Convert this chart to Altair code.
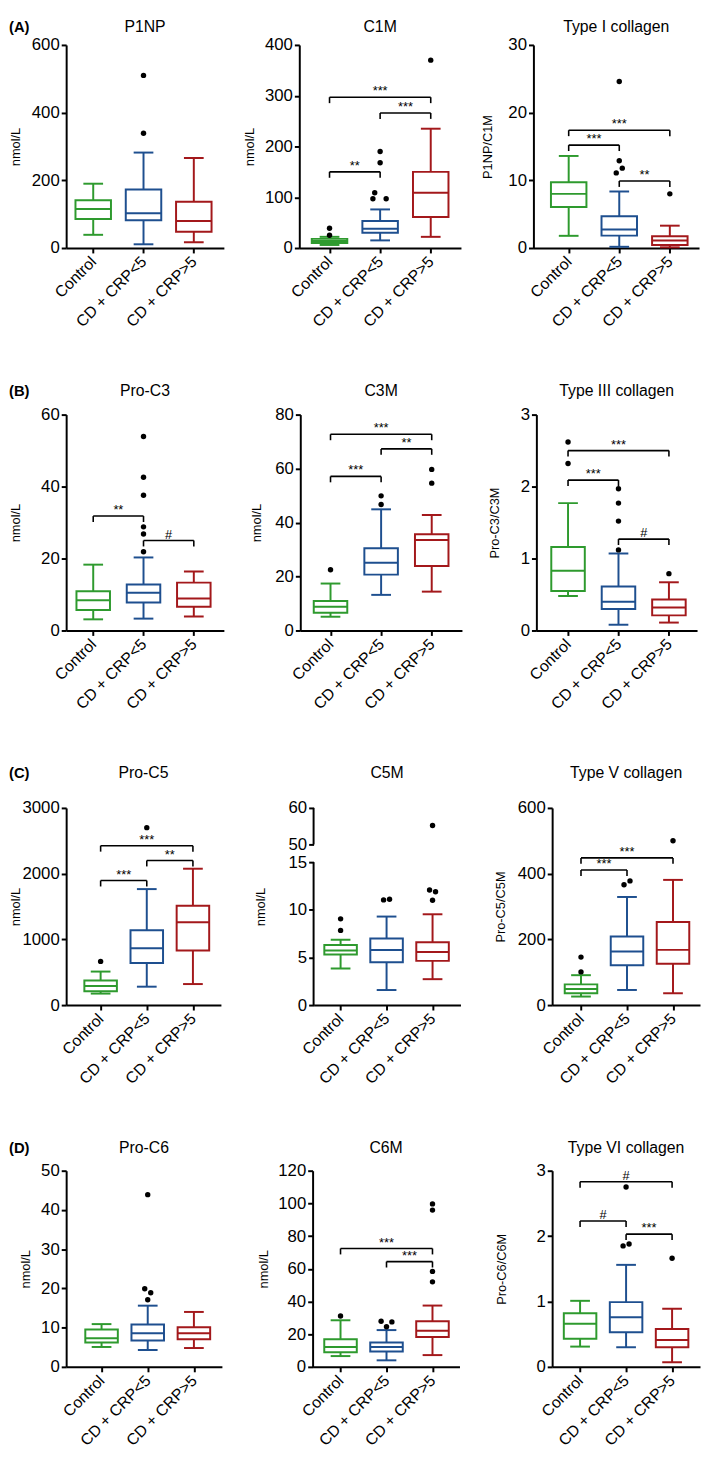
import json
import altair as alt
import pandas as pd

GROUPS = ["Control", "CD + CRP<5", "CD + CRP>5"]
COLORS = ["#2e9a2e", "#1e4f8f", "#a3181b"]

# box stats per group: [lower whisker, Q1, median, Q3, upper whisker]
P1NP_STATS = [[39, 86, 115, 141, 190], [11, 82, 103, 173, 282], [17, 48, 80, 137, 266]]
P1NP_OUT = [[1, 339, 0], [1, 510, 0]]          # group, value, side
P1NP_SIG = []                                   # group a, group b, height, label
P1NP_TICKS = [0, 200, 400, 600]

C1M_STATS = [[6, 10, 14, 18, 22], [15, 30, 38, 53, 76], [22, 61, 109, 150, 235]]
C1M_OUT = [[0, 25, 0], [0, 39, 0], [1, 97, -1.2], [1, 97, 1], [1, 109, -0.9],
           [1, 168, 0], [1, 190, 0], [2, 370, 0]]
C1M_SIG = [[0, 2, 297, "***"], [1, 2, 266, "***"], [0, 1, 150, "**"]]
C1M_TICKS = [0, 100, 200, 300, 400]

TYPE1_STATS = [[1.8, 6.05, 8.0, 9.7, 13.6], [0.18, 1.83, 2.75, 4.68, 8.35], [0.1, 0.46, 1.1, 1.74, 3.3]]
TYPE1_OUT = [[1, 12.9, 0], [1, 11.8, 0.5], [1, 11.1, -0.5], [1, 24.6, 0], [2, 8.0, 0]]
TYPE1_SIG = [[0, 2, 17.4, "***"], [0, 1, 15.2, "***"], [1, 2, 9.9, "**"]]
TYPE1_TICKS = [0, 10, 20, 30]

PROC3_STATS = [[3.1, 5.7, 8.4, 10.9, 18.3], [3.3, 7.8, 10.5, 12.8, 20.3], [3.9, 6.6, 8.9, 13.3, 16.4]]
PROC3_OUT = [[1, 21.9, 0], [1, 26.8, 0], [1, 28.8, 0], [1, 37.6, 0], [1, 42.6, 0], [1, 53.9, 0]]
PROC3_SIG = [[0, 1, 31.8, "**"], [1, 2, 25.0, "#"]]
PROC3_TICKS = [0, 20, 40, 60]

C3M_STATS = [[5.1, 6.6, 8.8, 10.9, 17.4], [13.2, 20.7, 25.1, 30.5, 44.9], [14.4, 23.9, 33.5, 35.7, 42.8]]
C3M_OUT = [[0, 22.5, 0], [1, 46.7, 0], [1, 49.9, 0], [2, 54.6, 0], [2, 59.7, 0]]
C3M_SIG = [[0, 2, 72.7, "***"], [1, 2, 67.3, "**"], [0, 1, 57.1, "***"]]
C3M_TICKS = [0, 20, 40, 60, 80]

TYPE3_STATS = [[0.48, 0.55, 0.83, 1.16, 1.77], [0.08, 0.30, 0.40, 0.61, 1.07], [0.11, 0.21, 0.32, 0.43, 0.67]]
TYPE3_OUT = [[0, 2.32, 0], [0, 2.62, 0], [1, 1.12, 0], [1, 1.52, 0], [1, 1.77, 0], [1, 1.97, 0], [2, 0.79, 0]]
TYPE3_SIG = [[0, 2, 2.50, "***"], [0, 1, 2.09, "***"], [1, 2, 1.27, "#"]]
TYPE3_TICKS = [0, 1, 2, 3]

PROC5_STATS = [[175, 210, 290, 375, 510], [280, 640, 865, 1140, 1765], [320, 830, 1260, 1510, 2075]]
PROC5_OUT = [[0, 665, 0], [1, 2700, 0]]
PROC5_SIG = [[0, 2, 2425, "***"], [1, 2, 2200, "**"], [0, 1, 1895, "***"]]
PROC5_TICKS = [0, 1000, 2000, 3000]

C5M_STATS = [[3.85, 5.3, 5.74, 6.3, 6.85], [1.58, 4.5, 5.78, 6.98, 9.29], [2.72, 4.64, 5.57, 6.6, 9.53]]
C5M_OUT = [[0, 7.84, 0], [0, 9.05, 0], [1, 11.04, -0.5], [1, 11.1, 0.5], [2, 12.07, -0.5],
           [2, 11.9, 0.5], [2, 11.0, 0], [2, 55.2, 0]]
C5M_SIG = []
C5M_TICKS = [0, 5, 10, 15, 50, 60]
C5M_BREAK = [15, 50]

TYPE5_STATS = [[26, 36, 49, 63, 91], [46, 121, 163, 209, 329], [36, 126, 168, 253, 381]]
TYPE5_OUT = [[0, 101, 0], [0, 146, 0], [1, 366, -0.5], [1, 378, 0.5], [2, 500, 0]]
TYPE5_SIG = [[0, 2, 448, "***"], [0, 1, 411, "***"]]
TYPE5_TICKS = [0, 200, 400, 600]

PROC6_STATS = [[5.07, 6.2, 7.3, 9.55, 10.9], [4.3, 6.7, 8.55, 10.8, 15.6], [4.8, 7.06, 8.55, 10.1, 14.0]]
PROC6_OUT = [[1, 17.1, 0], [1, 18.9, 0.5], [1, 19.9, -0.5], [1, 43.9, 0]]
PROC6_SIG = []
PROC6_TICKS = [0, 10, 20, 30, 40, 50]

C6M_STATS = [[6.6, 9.0, 12.2, 16.9, 28.5], [4.0, 9.4, 12.2, 14.9, 22.5], [7.2, 18.3, 22.1, 27.9, 37.5]]
C6M_OUT = [[0, 31.1, 0], [1, 24.5, 0], [1, 27.9, -0.9], [1, 27.5, 0.9], [2, 52.0, 0],
           [2, 58.4, 0], [2, 95.9, 0], [2, 99.7, 0]]
C6M_SIG = [[0, 2, 72.4, "***"], [1, 2, 64.4, "***"]]
C6M_TICKS = [0, 20, 40, 60, 80, 100, 120]

TYPE6_STATS = [[0.31, 0.43, 0.66, 0.82, 1.01], [0.30, 0.53, 0.76, 0.99, 1.56], [0.07, 0.30, 0.41, 0.58, 0.89]]
TYPE6_OUT = [[1, 1.85, -0.5], [1, 1.88, 0.5], [1, 2.75, 0], [2, 1.66, 0]]
TYPE6_SIG = [[0, 2, 2.83, "#"], [0, 1, 2.23, "#"], [1, 2, 2.03, "***"]]
TYPE6_TICKS = [0, 1, 2, 3]

FONT = "Liberation Sans"
SPREAD = 6.5   # px sideways shift for tied outliers
LEG = 6        # px bracket leg length
CAP = 20
LETTER_X = -58


def panel(stats, outs, sigs, ticks, title, ytitle, w, h, xdom, title_x, t_off, bw,
          letter=None, broken=None):
    band = w / (xdom[1] - xdom[0])
    ymax = ticks[-1]
    box = pd.DataFrame({
        "g": [0, 1, 2], "grp": GROUPS,
        "lo": [s[0] for s in stats], "q1": [s[1] for s in stats],
        "med": [s[2] for s in stats], "q3": [s[3] for s in stats],
        "hi": [s[4] for s in stats],
    })
    out = pd.DataFrame(outs, columns=["g", "val", "side"])
    out["xo"] = out["g"] + out["side"] * SPREAD / band

    xsc = alt.Scale(domain=list(xdom), nice=False, zero=False)
    if broken:
        ysc = alt.Scale(domain=[0, broken[0], broken[1], ymax],
                        range=[h, round(h * 55 / 200), round(h * 37 / 200), 0],
                        nice=False, zero=False)
    else:
        ysc = alt.Scale(domain=[0, ymax], nice=False, zero=False)

    xax = alt.Axis(values=[0, 1, 2], labelExpr=f"{json.dumps(GROUPS)}[datum.value]",
                   labelAngle=315, labelAlign="right", labelBaseline="middle",
                   labelFontSize=16, labelPadding=6, labelOverlap=False, labelFlush=False,
                   title=None, grid=False, domainWidth=2, tickWidth=2, tickSize=5)
    yax = alt.Axis(values=ticks, format="d", labelFontSize=17, labelPadding=2, labelOverlap=False,
                   labelFlush=False, title=ytitle, titleFontSize=13, titleFontWeight="normal",
                   titleX=title_x, titleBaseline="middle", titleAlign="center", titleAngle=270,
                   grid=False, domain=not broken, domainWidth=2, tickWidth=2, tickSize=5)

    def X(f):
        return alt.X(f, type="quantitative", scale=xsc, axis=xax)

    def Y(f):
        return alt.Y(f, type="quantitative", scale=ysc, axis=yax)

    cscale = alt.Scale(domain=GROUPS, range=COLORS)
    col = alt.Color("grp:N", scale=cscale, legend=None)
    base = alt.Chart(box)
    layers = [
        base.mark_rule(strokeWidth=2, opacity=1).encode(x=X("g"), y=Y("lo"), y2="hi", color=col),
        base.mark_bar(size=bw, fill="white", strokeWidth=2, opacity=1).encode(
            x=X("g"), y=Y("q1"), y2="q3", stroke=alt.Stroke("grp:N", scale=cscale, legend=None)),
        base.mark_tick(orient="horizontal", size=bw, thickness=2, opacity=1).encode(
            x=X("g"), y=Y("med"), color=col),
        base.mark_tick(orient="horizontal", size=CAP, thickness=2, opacity=1).encode(
            x=X("g"), y=Y("lo"), color=col),
        base.mark_tick(orient="horizontal", size=CAP, thickness=2, opacity=1).encode(
            x=X("g"), y=Y("hi"), color=col),
        alt.Chart(out).mark_circle(size=30, color="black", opacity=1).encode(x=X("xo"), y=Y("val")),
    ]
    if sigs:
        sg = pd.DataFrame(sigs, columns=["g1", "g2", "y", "lab"])
        sg["gm"] = (sg["g1"] + sg["g2"]) / 2
        sg["yl"] = sg["y"] - LEG / h * ymax
        sc = alt.Chart(sg)
        layers += [
            sc.mark_rule(strokeWidth=1.6, color="black").encode(x=X("g1"), x2="g2", y=Y("y")),
            sc.mark_rule(strokeWidth=1.6, color="black").encode(x=X("g1"), y=Y("y"), y2="yl"),
            sc.mark_rule(strokeWidth=1.6, color="black").encode(x=X("g2"), y=Y("y"), y2="yl"),
            sc.mark_text(fontSize=13, baseline="alphabetic", dy=-2, color="black").encode(
                x=X("gm"), y=Y("y"), text="lab:N"),
        ]
    if broken:
        seg = pd.DataFrame({"a": [0, broken[1]], "b": [broken[0], ymax]})
        layers.append(alt.Chart(seg).mark_rule(strokeWidth=2, color="black").encode(
            x=alt.value(0), y=Y("a"), y2="b"))
    layers.append(alt.Chart(pd.DataFrame({"t": [title]})).mark_text(
        fontSize=16, align="center", baseline="alphabetic", color="black").encode(
        x=alt.value(w / 2), y=alt.value(-t_off), text="t:N"))
    if letter:
        layers.append(alt.Chart(pd.DataFrame({"t": [letter]})).mark_text(
            fontSize=15, fontWeight="bold", align="left", baseline="alphabetic", color="black").encode(
            x=alt.value(LETTER_X), y=alt.value(-t_off), text="t:N"))
    return alt.layer(*layers).properties(width=w, height=h)


HA, HB, HC, HD = 206, 219, 200, 199
TA, TB, TC, TD = 13, 19, 30, 18

row_a = alt.hconcat(
    panel(P1NP_STATS, P1NP_OUT, P1NP_SIG, P1NP_TICKS, "P1NP", "nmol/L", 160, HA, (-0.44, 2.5), -51, TA, 36,
          letter="(A)"),
    panel(C1M_STATS, C1M_OUT, C1M_SIG, C1M_TICKS, "C1M", "nmol/L", 164, HA, (-0.5, 2.5), -50, TA, 36),
    panel(TYPE1_STATS, TYPE1_OUT, TYPE1_SIG, TYPE1_TICKS, "Type I collagen", "P1NP/C1M", 168, HA,
          (-0.6, 2.48), -47, TA, 36),
    spacing=18.5)

row_b = alt.hconcat(
    panel(PROC3_STATS, PROC3_OUT, PROC3_SIG, PROC3_TICKS, "Pro-C3", "nmol/L", 160, HB, (-0.44, 2.5), -51, TB, 34,
          letter="(B)"),
    panel(C3M_STATS, C3M_OUT, C3M_SIG, C3M_TICKS, "C3M", "nmol/L", 164, HB, (-0.5, 2.5), -44, TB, 34),
    panel(TYPE3_STATS, TYPE3_OUT, TYPE3_SIG, TYPE3_TICKS, "Type III collagen", "Pro-C3/C3M", 163, HB,
          (-0.53, 2.46), -42, TB, 34),
    spacing=25.5)

row_c = alt.hconcat(
    panel(PROC5_STATS, PROC5_OUT, PROC5_SIG, PROC5_TICKS, "Pro-C5", "nmol/L", 157, HC, (-0.64, 2.5), -51.5, TC, 33,
          letter="(C)"),
    panel(C5M_STATS, C5M_OUT, C5M_SIG, C5M_TICKS, "C5M", "nmol/L", 149, HC, (-0.48, 2.5), -53.5, TC, 33,
          broken=C5M_BREAK),
    panel(TYPE5_STATS, TYPE5_OUT, TYPE5_SIG, TYPE5_TICKS, "Type V collagen", "Pro-C5/C5M", 150, HC,
          (-0.52, 2.48), -52.5, TC, 33),
    spacing=33)

row_d = alt.hconcat(
    panel(PROC6_STATS, PROC6_OUT, PROC6_SIG, PROC6_TICKS, "Pro-C6", "nmol/L", 158, HD, (-0.66, 2.5), -41, TD, 33,
          letter="(D)"),
    panel(C6M_STATS, C6M_OUT, C6M_SIG, C6M_TICKS, "C6M", "nmol/L", 149, HD, (-0.5, 2.48), -49.5, TD, 33),
    panel(TYPE6_STATS, TYPE6_OUT, TYPE6_SIG, TYPE6_TICKS, "Type VI collagen", "Pro-C6/C6M", 150, HD,
          (-0.5, 2.5), -51.5, TD, 33),
    spacing=35)

chart = alt.vconcat(row_a, row_b, row_c, row_d, spacing=52).properties(padding=0).configure(
    font=FONT).configure_view(stroke="transparent").configure_axis(
    labelColor="black", titleColor="black", domainColor="black", tickColor="black")

chart.save("out.html", embed_options={"renderer": "svg", "actions": False})
